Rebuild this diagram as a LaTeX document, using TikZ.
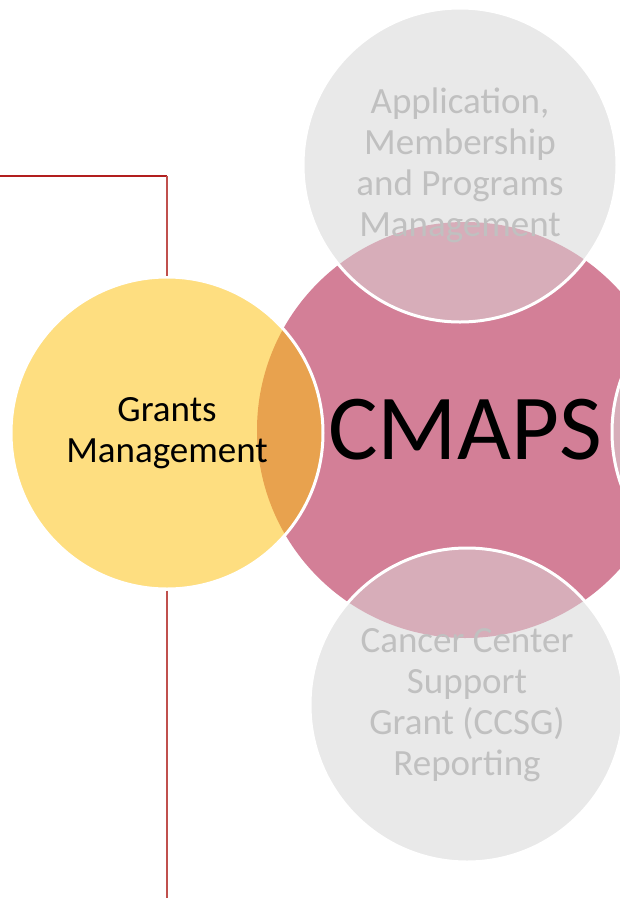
\documentclass[tikz,border=0pt]{standalone}
\usepackage{fontspec}
\setmainfont{Carlito}
\usetikzlibrary{calc,backgrounds}

\definecolor{cmapsPink}{RGB}{211,127,151}
\definecolor{cmapsGray}{RGB}{233,233,233}
\definecolor{cmapsGrayText}{RGB}{192,192,192}
\definecolor{cmapsYellow}{RGB}{254,222,128}
\definecolor{lensGray}{RGB}{215,173,185}
\definecolor{lensYellow}{RGB}{232,162,78}
\definecolor{lineDark}{RGB}{178,30,30}
\definecolor{lineLight}{RGB}{192,80,77}

\begin{document}
\begin{tikzpicture}[x=1pt,y=-1pt]
 \tikzstyle{place} = [circle,inner sep=0pt,draw=white,line width=3pt];
 \tikzstyle{placeP} = [fill=cmapsPink,draw=none,minimum size=416pt,font=\fontsize{93}{100}\selectfont];
 \tikzstyle{placeG} = [fill=cmapsGray,minimum size=314pt,align=center,text=cmapsGrayText,font=\fontsize{37}{41}\selectfont];
 \tikzstyle{placeY} = [fill=cmapsYellow,minimum size=312pt,align=center,font=\fontsize{37}{41}\selectfont];
 \tikzstyle{line} = [line width=1.6pt];

 \useasboundingbox (0,0) rectangle (620,898);

 \node[place,placeP,name=c] at (465,430) {CMAPS};
 \node[place,placeG,name=a,
       path picture={\fill[lensGray] (c) circle (208pt);}] at (460,165)
                                        {Application,\\Membership\\and Programs\\Management};
 \node[place,placeG,name=s,
       path picture={\fill[lensGray] (c) circle (208pt);}] at (467,705)
                                        {Cancer Center\\Support\\Grant (CCSG)\\Reporting};
 \node[place,placeG,name=r,
       path picture={\fill[lensGray] (c) circle (208pt);}] at (769,432) {};
 \node[place,placeY,name=g,
       path picture={\fill[lensYellow] (c) circle (208pt);}] at (167,433)
                                        {Grants\\Management};

 \coordinate (l) at (0,176);
 \coordinate (k) at (167,176);
 \coordinate (e) at (167,898);

 \draw[line,lineDark] (l) -- (k);
 \draw[line,lineLight] (k) -- (g.north);
 \draw[line,lineLight] (g.south) -- (e);
\end{tikzpicture}
\end{document}
